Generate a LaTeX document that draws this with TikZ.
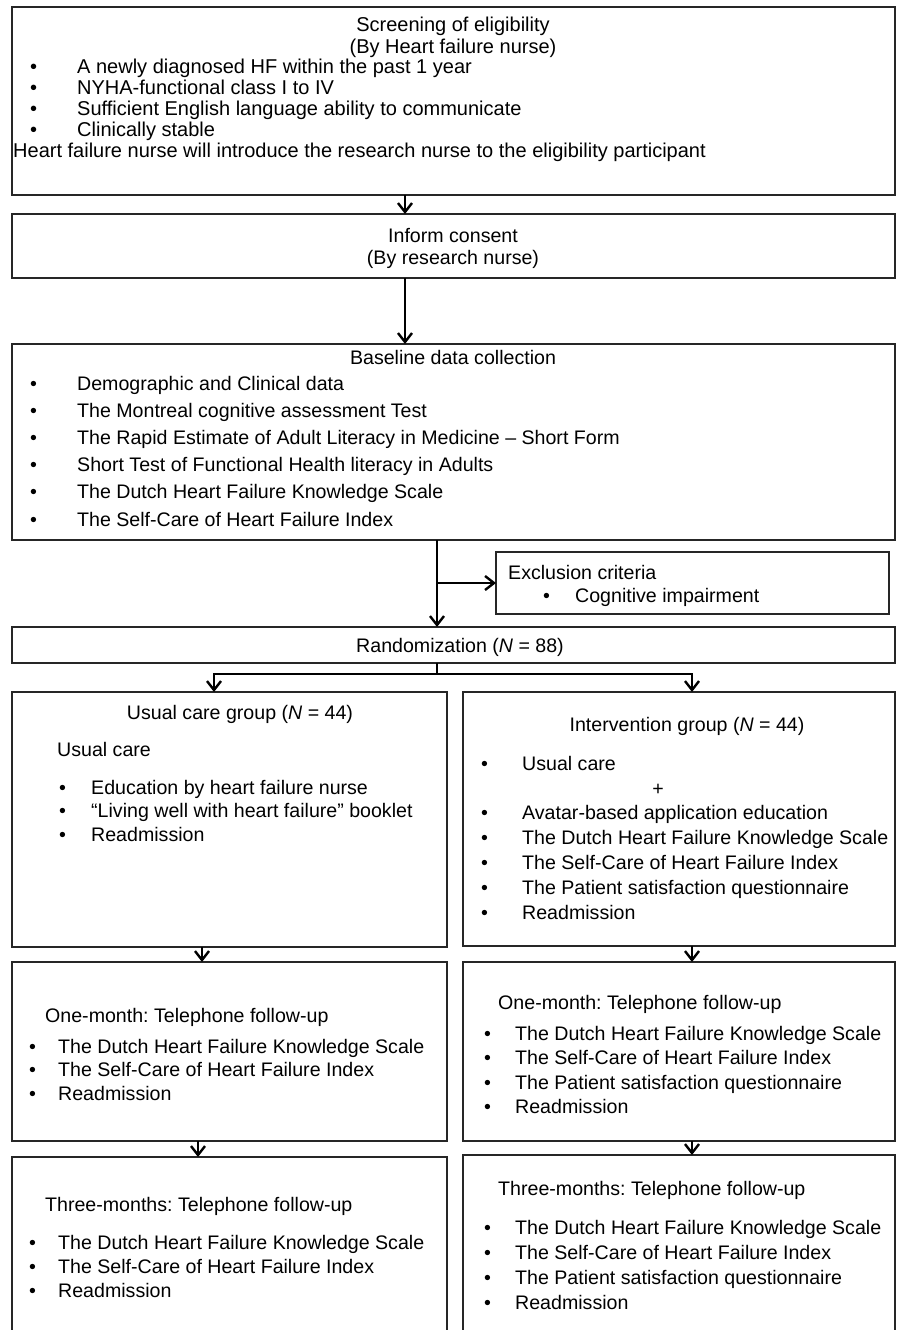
\documentclass[tikz,border=0pt]{standalone}
\usepackage{fontspec}
\setmainfont{Liberation Sans}
\usetikzlibrary{arrows.meta,positioning}
\tikzset{font=\fontsize{19.6}{23}\selectfont}
\tikzset{box/.style={draw=black!85, line width=1.2pt, anchor=north west, inner sep=0pt, outer sep=0pt}}
\tikzset{arr/.style={line width=1.9pt, -{Straight Barb[length=9pt,width=14pt,line width=2.4pt]}}}
\tikzset{txt/.style={anchor=base west, inner sep=0pt}}
\tikzset{ctxt/.style={anchor=base, inner sep=0pt}}
\newcommand{\bul}[2][44pt]{\makebox[#1][l]{\textbullet}#2}
\frenchspacing

\begin{document}
\begin{tikzpicture}[x=1pt,y=-1pt]
  \useasboundingbox (0,0) rectangle (901,1330);
  \clip (0,0) rectangle (901,1330);

  % boxes
  \node[box, minimum width=883pt, minimum height=188pt] (screen) at (12,7) {};
  \node[box, minimum width=883pt, minimum height=64pt] (consent) at (12,214) {};
  \node[box, minimum width=883pt, minimum height=196pt] (base) at (12,344) {};
  \node[box, minimum width=393pt, minimum height=62pt] (excl) at (496,552) {};
  \node[box, minimum width=883pt, minimum height=36pt] (rand) at (12,627) {};
  \node[box, minimum width=435pt, minimum height=255pt] (usual) at (12,692) {};
  \node[box, minimum width=432pt, minimum height=254pt] (interv) at (463,692) {};
  \node[box, minimum width=435pt, minimum height=179pt] (oneL) at (12,962) {};
  \node[box, minimum width=432pt, minimum height=179pt] (oneR) at (463,962) {};
%  the last two run off the bottom of the page
  \node[box, minimum width=435pt, minimum height=250pt] (threeL) at (12,1157) {};
  \node[box, minimum width=432pt, minimum height=250pt] (threeR) at (463,1155) {};

  % arrows
  \draw[arr] (405,0 |- screen.south) -- (405,0 |- consent.north);
  \draw[arr] (405,0 |- consent.south) -- (405,0 |- base.north);
  \draw[arr] (437,0 |- base.south) -- (437,0 |- rand.north);
  \draw[arr] (437,0 |- excl.west) -- (excl.west);
  \coordinate (split) at (437,674);
  \draw[line width=1.9pt] (437,0 |- rand.south) -- (split);
  \draw[arr] (split) -| (214,0 |- usual.north);
  \draw[arr] (split) -| (692,0 |- interv.north);
  \draw[arr] (202,0 |- usual.south) -- (202,0 |- oneL.north);
  \draw[arr] (692,0 |- interv.south) -- (692,0 |- oneR.north);
  \draw[arr] (198,0 |- oneL.south) -- (198,0 |- threeL.north);
  \draw[arr] (692,0 |- oneR.south) -- (692,0 |- threeR.north);

  % screening
  \begin{scope}[font=\fontsize{20}{23}\selectfont]
  \node[ctxt] (screen-t1) at (453,32) {Screening of eligibility};
  \node[ctxt] (screen-t2) at (453,53) {(By Heart failure nurse)};
  \foreach \t [count=\k from 0] in {A newly diagnosed HF within the past 1 year,
      NYHA-functional class I to IV,
      Sufficient English language ability to communicate,
      Clinically stable}
    \node[txt] (screen-\k) at (30,{74+20.8*\k}) {\bul[47pt]{\t}};
  \node[txt] (screen-n) at (13,157) {Heart failure nurse will introduce the research nurse to the eligibility participant};
  \end{scope}

  % consent
  \node[ctxt] (consent-t1) at (453,242) {Inform consent};
  \node[ctxt] (consent-t2) at (453,264) {(By research nurse)};

  % baseline
  \node[ctxt] (base-t) at (453,364) {Baseline data collection};
  \foreach \t [count=\k from 0] in {Demographic and Clinical data,
      The Montreal cognitive assessment Test,
      The Rapid Estimate of Adult Literacy in Medicine – Short Form,
      Short Test of Functional Health literacy in Adults,
      The Dutch Heart Failure Knowledge Scale,
      The Self-Care of Heart Failure Index}
    \node[txt] (base-\k) at (30,{390+27.2*\k}) {\bul[47pt]{\t}};

  % exclusion
  \node[txt] (excl-t) at (508,579) {Exclusion criteria};
  \node[txt] (excl-1) at (543,602) {\bul[32pt]{Cognitive impairment}};

  % randomization
  \node[ctxt] (rand-t) at (460,652) {Randomization (\textit{N} = 88)};

  % usual care group
  \node[ctxt] (usual-t) at (240,719) {Usual care group (\textit{N} = 44)};
  \node[txt] (usual-s) at (57,756) {Usual care};
  \foreach \t [count=\k from 0] in {Education by heart failure nurse,
      “Living well with heart failure” booklet,
      Readmission}
    \node[txt] (usual-\k) at (59,{794+23.5*\k}) {\bul[32pt]{\t}};

  % intervention group
  \node[ctxt] (interv-t) at (687,731) {Intervention group (\textit{N} = 44)};
  \node[txt] (interv-s) at (481,770) {\bul[41pt]{Usual care}};
  \node[ctxt] (interv-p) at (658,795) {+};
  \foreach \t [count=\k from 0] in {Avatar-based application education,
      The Dutch Heart Failure Knowledge Scale,
      The Self-Care of Heart Failure Index,
      The Patient satisfaction questionnaire,
      Readmission}
    \node[txt] (interv-\k) at (481,{819+25*\k}) {\bul[41pt]{\t}};

  % one month
  \node[txt] (oneL-t) at (45,1022) {One-month: Telephone follow-up};
  \foreach \t [count=\k from 0] in {The Dutch Heart Failure Knowledge Scale,
      The Self-Care of Heart Failure Index,
      Readmission}
    \node[txt] (oneL-\k) at (29,{1053+23.5*\k}) {\bul[29pt]{\t}};
  \node[txt] (oneR-t) at (498,1009) {One-month: Telephone follow-up};
  \foreach \t [count=\k from 0] in {The Dutch Heart Failure Knowledge Scale,
      The Self-Care of Heart Failure Index,
      The Patient satisfaction questionnaire,
      Readmission}
    \node[txt] (oneR-\k) at (484,{1040+24.5*\k}) {\bul[31pt]{\t}};

  % three months
  \node[txt] (threeL-t) at (45,1211) {Three-months: Telephone follow-up};
  \foreach \t [count=\k from 0] in {The Dutch Heart Failure Knowledge Scale,
      The Self-Care of Heart Failure Index,
      Readmission}
    \node[txt] (threeL-\k) at (29,{1249+24*\k}) {\bul[29pt]{\t}};
  \node[txt] (threeR-t) at (498,1195) {Three-months: Telephone follow-up};
  \foreach \t [count=\k from 0] in {The Dutch Heart Failure Knowledge Scale,
      The Self-Care of Heart Failure Index,
      The Patient satisfaction questionnaire,
      Readmission}
    \node[txt] (threeR-\k) at (484,{1234+25*\k}) {\bul[31pt]{\t}};

\end{tikzpicture}
\end{document}
